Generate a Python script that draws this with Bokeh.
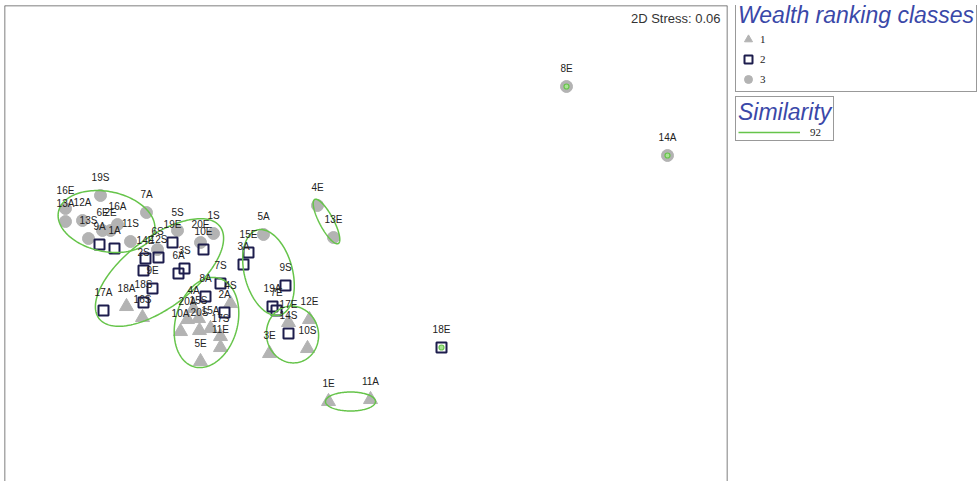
import numpy as np
from bokeh.plotting import figure
from bokeh.layouts import row
from bokeh.models import ColumnDataSource, Range1d, Legend, LegendItem, Span, Label
from bokeh.core.properties import value
from bokeh.embed import file_html
from bokeh.resources import INLINE

# ---- nMDS ordination (arbitrary MDS units) ----
# Wealth ranking class 1 (triangles)
labels1 = ["16S", "18A", "4S", "4A", "20A", "15S", "10A", "20S", "15A", "17S",
           "11E", "5E", "17E", "12E", "10S", "3E", "1E", "11A"]
x1 = [-2.18, -2.34, -1.30, -1.67, -1.73, -1.62, -1.80, -1.61, -1.50, -1.40,
      -1.40, -1.60, -0.72, -0.51, -0.53, -0.91, -0.32, 0.10]
y1 = [-0.57, -0.46, -0.43, -0.48, -0.59, -0.58, -0.71, -0.70, -0.68, -0.76,
      -0.87, -1.01, -0.62, -0.59, -0.88, -0.93, -1.41, -1.39]

# Wealth ranking class 2 (open squares)
labels2 = ["9A", "1A", "19E", "10E", "14E", "12S", "2S", "9E", "18S", "17A",
           "3S", "6A", "7S", "8A", "2A", "15E", "3A", "9S", "19A", "7E", "14S", "18E"]
x2 = [-2.61, -2.46, -1.88, -1.57, -2.15, -2.02, -2.17, -2.08, -2.17, -2.57,
      -1.76, -1.82, -1.40, -1.55, -1.36, -1.12, -1.17, -0.75, -0.88, -0.84, -0.72, 0.81]
y2 = [0.16, 0.12, 0.18, 0.11, 0.02, 0.03, -0.10, -0.28, -0.42, -0.50,
      -0.08, -0.13, -0.23, -0.36, -0.52, 0.08, -0.04, -0.25, -0.46, -0.50, -0.73, -0.87]

# Wealth ranking class 3 (grey circles)
labels3 = ["8E", "14A", "4E", "13E", "5A", "19S", "16E", "13A", "12A", "7A",
           "6E", "2E", "16A", "13S", "11S", "5S", "1S", "20E", "6S"]
x3 = [2.06, 3.07, -0.43, -0.27, -0.97, -2.60, -2.95, -2.95, -2.78, -2.14,
      -2.58, -2.50, -2.43, -2.72, -2.30, -1.83, -1.47, -1.60, -2.03]
y3 = [1.74, 1.05, 0.55, 0.23, 0.26, 0.65, 0.52, 0.39, 0.40, 0.48,
      0.30, 0.30, 0.36, 0.22, 0.19, 0.30, 0.27, 0.18, 0.11]

# Similarity (92%) contours: centre, axes, rotation
contour_cx = [-2.54, -2.01, -1.54, -0.92, -0.68, -0.34, -0.10]
contour_cy = [0.39, -0.12, -0.62, -0.12, -0.74, 0.39, -1.41]
contour_w = [0.98, 1.52, 0.92, 0.88, 0.52, 0.50, 0.50]
contour_h = [0.60, 0.70, 0.62, 0.48, 0.57, 0.14, 0.19]
contour_angle = [-0.20, 0.65, 1.30, 1.83, 0.20, -1.08, 0.0]
singletons = ["8E", "14A", "18E"]
similarity_level = "92"
stress = 0.06

class_names = ["1", "2", "3"]

GRAY = "#b3b3b3"
NAVY = "#1d1d4d"
GREEN = "#66c44a"
BLUE = "#3a48a8"

p = figure(width=728, height=481,
           x_range=Range1d(-3.56, 3.67), y_range=Range1d(-2.21, 2.55),
           x_axis_location=None, y_axis_location=None,
           min_border_left=4, min_border_right=1, min_border_top=5, min_border_bottom=0,
           output_backend="svg", toolbar_location=None)
p.grid.visible = False
p.outline_line_color = None
p.background_fill_color = "white"
p.border_fill_color = "white"

for loc, dim in [(p.x_range.start, "height"), (p.x_range.end, "height"), (p.y_range.end, "width")]:
    p.add_layout(Span(location=loc, dimension=dim, line_color="#555555", line_width=1.5))

src1 = ColumnDataSource(dict(x=x1, y=y1, label=labels1))
src2 = ColumnDataSource(dict(x=x2, y=y2, label=labels2))
src3 = ColumnDataSource(dict(x=x3, y=y3, label=labels3))

tri_style = dict(marker="triangle", size=14, fill_color=GRAY, line_color=GRAY)
sq_style = dict(marker="square", size=10, fill_color=None, line_color=NAVY, line_width=2)
circ_style = dict(marker="circle", size=12, fill_color=GRAY, line_color=GRAY)
cont_style = dict(line_color=GREEN, line_width=1.5)

p.scatter("x", "y", source=src1, **tri_style)
p.scatter("x", "y", source=src3, **circ_style)
p.scatter("x", "y", source=src2, **sq_style)

# contours
t = np.linspace(0, 2 * np.pi, 160)
xs, ys = [], []
for cx, cy, w, h, a in zip(contour_cx, contour_cy, contour_w, contour_h, contour_angle):
    ex = w / 2 * np.cos(t)
    ey = h / 2 * np.sin(t)
    xs.append(cx + ex * np.cos(a) - ey * np.sin(a))
    ys.append(cy + ex * np.sin(a) + ey * np.cos(a))
p.multi_line(xs, ys, **cont_style)

all_labels = labels1 + labels2 + labels3
all_x = x1 + x2 + x3
all_y = y1 + y2 + y3
sx = [all_x[all_labels.index(s)] for s in singletons]
sy = [all_y[all_labels.index(s)] for s in singletons]
p.scatter(sx, sy, marker="circle", size=5, fill_color="#a8e494", line_color=GREEN, line_width=1.2)

srcl = ColumnDataSource(dict(x=all_x, y=all_y, label=all_labels))
p.text("x", "y", text="label", source=srcl, text_align="center", text_baseline="middle",
       y_offset=-18, text_font=value("Liberation Sans"), text_font_size="10px",
       text_color="#222222")

p.add_layout(Label(x=716, y=463, x_units="screen", y_units="screen",
                   text=f"2D Stress: {stress:.2f}", text_align="right", text_baseline="middle",
                   text_font="Liberation Sans", text_font_size="13px", text_color="#333333"))

# ---- legend panel ----
pl = figure(width=252, height=481, x_range=Range1d(0, 1), y_range=Range1d(0, 1),
            x_axis_location=None, y_axis_location=None, min_border=0,
            output_backend="svg", toolbar_location=None)
pl.grid.visible = False
pl.outline_line_color = None
pl.border_fill_color = "white"

# legend-key renderers (no visible data)
k1 = pl.scatter([np.nan], [np.nan], **tri_style)
k2 = pl.scatter([np.nan], [np.nan], **sq_style)
k3 = pl.scatter([np.nan], [np.nan], **circ_style)
kc = pl.line([np.nan, np.nan], [np.nan, np.nan], **cont_style)

common = dict(title_text_font="Liberation Sans", title_text_font_size="23px",
              title_text_font_style="italic", title_text_color=BLUE,
              label_text_font="Liberation Serif", label_text_font_size="11px",
              label_text_color="#222222", margin=0, padding=2,
              border_line_color="#333333", border_line_width=1.5,
              background_fill_color="white", background_fill_alpha=1)

leg1 = Legend(items=[LegendItem(label=n, renderers=[r]) for n, r in zip(class_names, [k1, k2, k3])],
              title="Wealth ranking classes", location=(7, 389),
              glyph_width=20, glyph_height=20, label_height=20, spacing=0,
              label_standoff=2, title_standoff=0, **common)
leg2 = Legend(items=[LegendItem(label=similarity_level, renderers=[kc])],
              title="Similarity", location=(7, 340),
              glyph_width=62, glyph_height=12, label_height=12, spacing=0,
              label_standoff=10, title_standoff=0, **common)
pl.add_layout(leg1)
pl.add_layout(leg2)

open("out.html", "w").write(file_html(row(p, pl), INLINE))
